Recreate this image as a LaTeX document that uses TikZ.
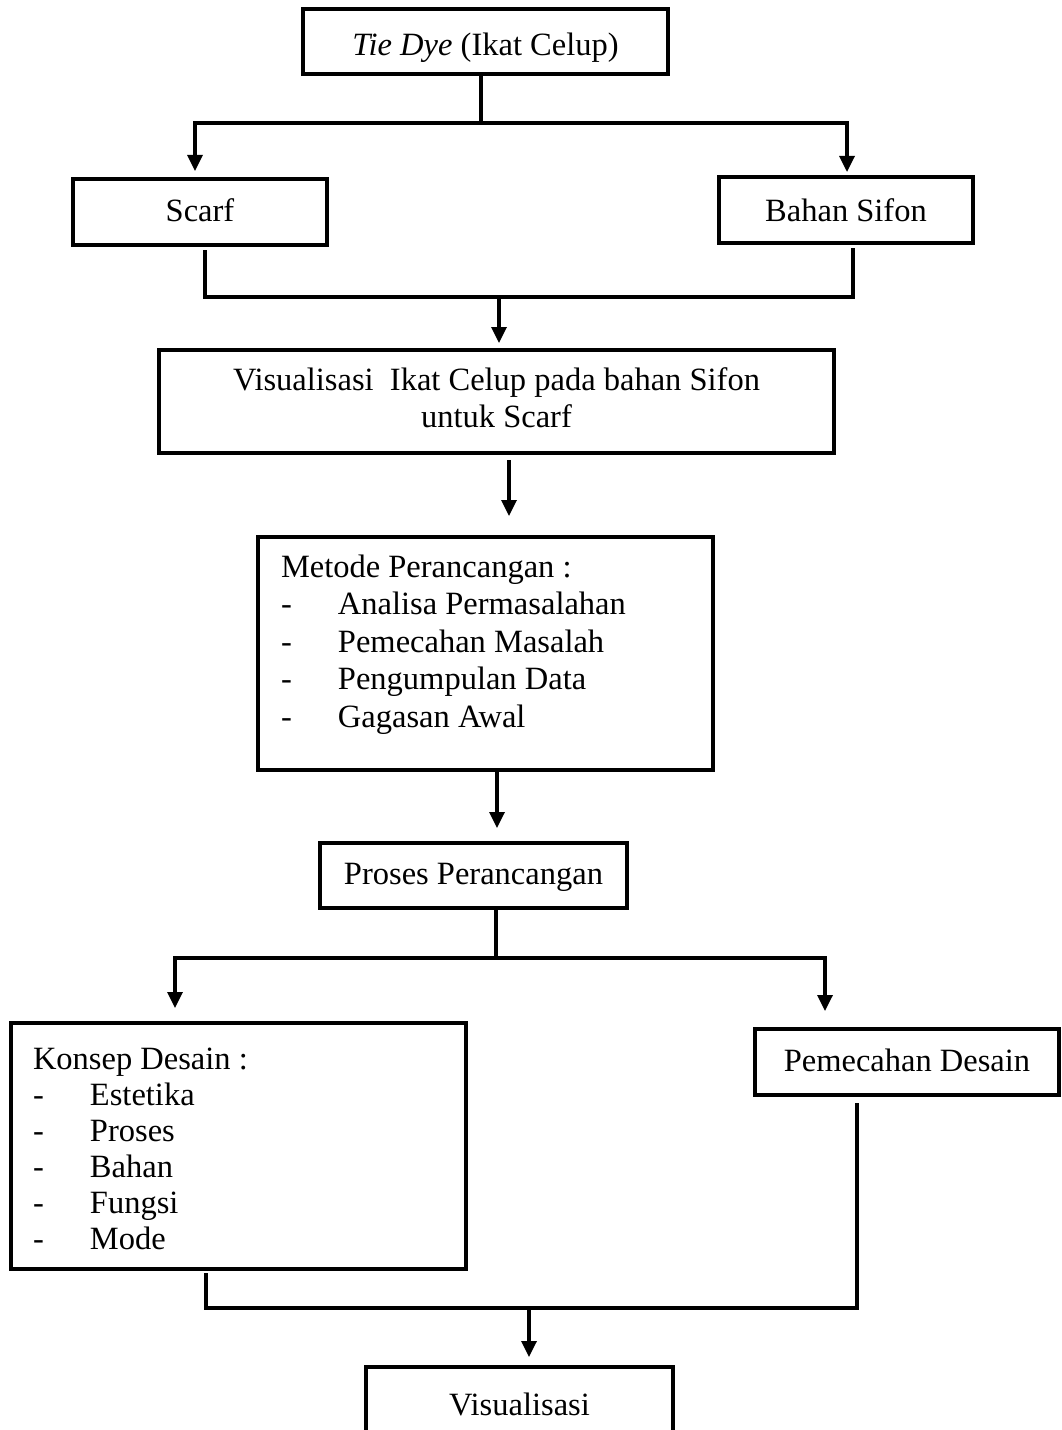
\documentclass[tikz,border=0pt]{standalone}
\usepackage{fontspec}
\setmainfont{Liberation Serif}
\usetikzlibrary{arrows.meta}
% centred text box: width, height, first baseline depth, text
\newcommand{\ctrbox}[4]{\parbox[t][#2][t]{#1}{\centering\rule{0pt}{#3}#4}}
% left text box: width, height, first baseline depth, left indent, text
\newcommand{\lftbox}[5]{\parbox[t][#2][t]{#1}{\raggedright\leftskip=#4\relax\rule{0pt}{#3}#5}}
\newcommand{\itm}[1]{\makebox[57bp][l]{-}#1}
\begin{document}
\begin{tikzpicture}[x=1bp,y=-1bp,
  every node/.style={font=\fontsize{32.5bp}{37.5bp}\selectfont},
  flowbox/.style={draw, line width=4bp, inner sep=0pt, outer sep=0pt, anchor=north west},
  conn/.style={line width=3.3bp, line join=miter},
  arr/.style={conn, -{Triangle[length=16bp,width=15bp]}}]
\useasboundingbox (0,0) rectangle (1061,1430);
\fill[white] (0,0) rectangle (1061,1430);

\node[flowbox] (tie) at (303,9) {\ctrbox{365bp}{65bp}{47bp}{\textit{Tie Dye} (Ikat Celup)}};
\node[flowbox] (scarf) at (73,179) {\ctrbox{254bp}{66bp}{42bp}{Scarf}};
\node[flowbox] (bahan) at (719,177) {\ctrbox{254bp}{66bp}{44bp}{Bahan Sifon}};
\node[flowbox] (visual1) at (159,350) {\ctrbox{675bp}{103bp}{40bp}{Visualisasi\ \ Ikat Celup pada bahan Sifon\\untuk Scarf}};
\node[flowbox] (metode) at (258,537) {\lftbox{455bp}{233bp}{40bp}{23bp}{Metode Perancangan :\\
  \itm{Analisa Permasalahan}\\
  \itm{Pemecahan Masalah}\\
  \itm{Pengumpulan Data}\\
  \itm{Gagasan Awal}}};
\node[flowbox] (proses) at (320,843) {\ctrbox{307bp}{65bp}{41bp}{Proses Perancangan}};
\node[flowbox] (konsep) at (11,1023) {\lftbox{455bp}{246bp}{46bp}{22bp}{\fontsize{32.5bp}{36bp}\selectfont Konsep Desain :\\
  \itm{Estetika}\\
  \itm{Proses}\\
  \itm{Bahan}\\
  \itm{Fungsi}\\
  \itm{Mode}}};
\node[flowbox] (pemecahan) at (755,1029) {\ctrbox{304bp}{66bp}{42bp}{Pemecahan Desain}};
\node[flowbox] (visual2) at (366,1367) {\ctrbox{307bp}{90bp}{48bp}{Visualisasi}};

% bus 1
\coordinate (b1) at (481,123);
\coordinate (b1l) at (195,123);
\coordinate (b1r) at (847,123);
\draw[conn] (tie.south -| b1) -- (b1);
\draw[arr, shorten >=8bp] (b1) -- (b1l) -- (b1l |- scarf.north);
\draw[arr, shorten >=5bp] (b1) -- (b1r) -- (b1r |- bahan.north);

% bus 2
\coordinate (b2l) at (205,297);
\coordinate (b2r) at (853,297);
\coordinate (b2m) at (499,297);
\draw[conn, shorten <=5bp, shorten >=5bp] (b2l |- scarf.south) -- (b2l) -- (b2r) -- (b2r |- bahan.south);
\draw[arr, shorten >=7bp] (b2m) -- (b2m |- visual1.north);

% visual1 -> metode
\coordinate (a3) at (509,0);
\draw[arr, shorten <=7bp, shorten >=21bp] (visual1.south -| a3) -- (metode.north -| a3);

% metode -> proses
\coordinate (a4) at (497,0);
\draw[arr, shorten <=2bp, shorten >=15bp] (metode.south -| a4) -- (proses.north -| a4);

% bus 3
\coordinate (b3) at (496,958);
\coordinate (b3l) at (175,958);
\coordinate (b3r) at (825,958);
\draw[conn] (proses.south -| b3) -- (b3);
\draw[arr, shorten >=15bp] (b3) -- (b3l) -- (b3l |- konsep.north);
\draw[arr, shorten >=18bp] (b3) -- (b3r) -- (b3r |- pemecahan.north);

% bus 4
\coordinate (b4l) at (206,1308);
\coordinate (b4r) at (857,1308);
\coordinate (b4m) at (529,1308);
\draw[conn, shorten <=4bp, shorten >=8bp] (b4l |- konsep.south) -- (b4l) -- (b4r) -- (b4r |- pemecahan.south);
\draw[arr, shorten >=10bp] (b4m) -- (b4m |- visual2.north);
\end{tikzpicture}
\end{document}
